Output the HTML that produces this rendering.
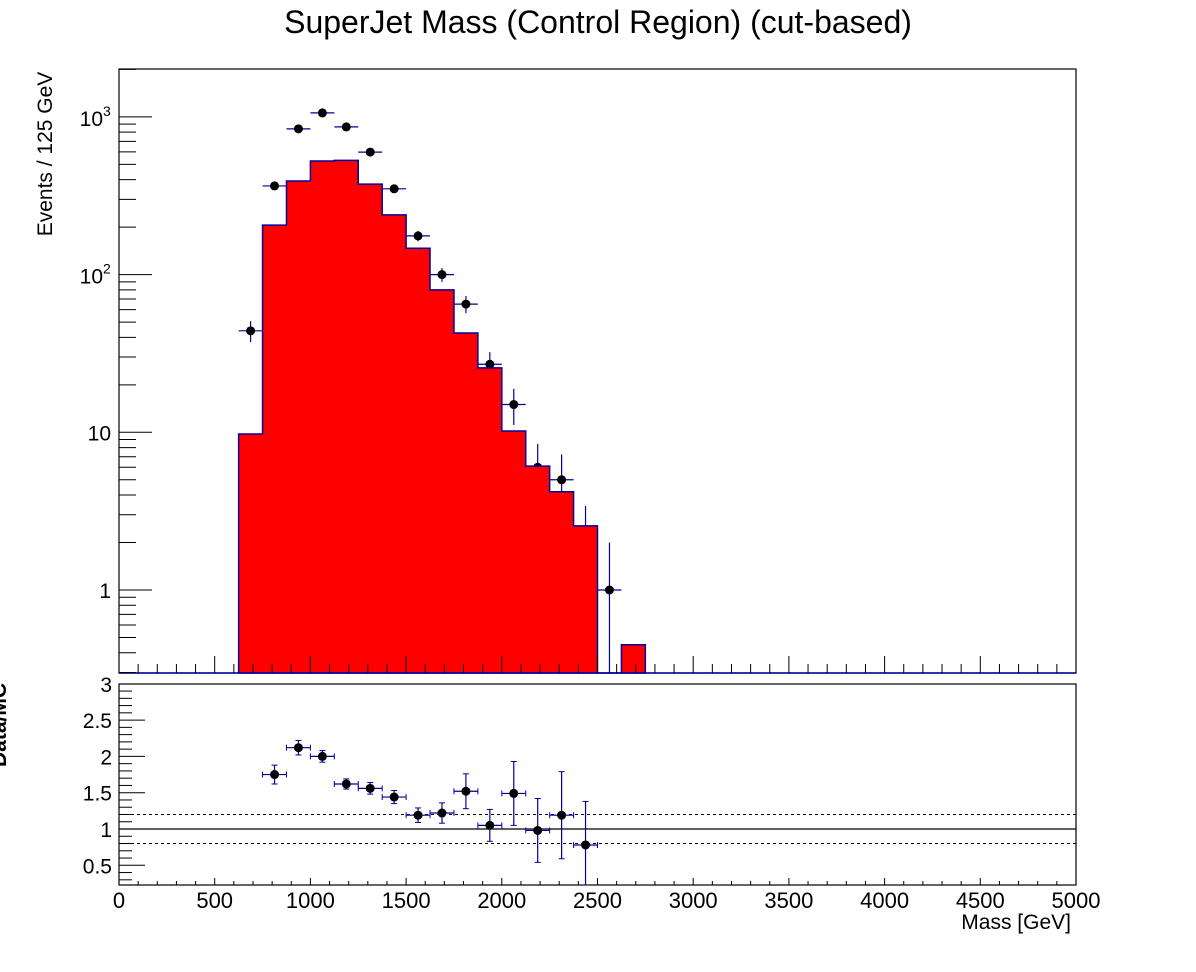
<!DOCTYPE html>
<html><head><meta charset="utf-8"><style>
body{margin:0;background:#fff;}
svg{display:block;font-family:"Liberation Sans",sans-serif;}
</style></head><body>
<svg id="c" width="1196" height="972"></svg>
<script>
const binEdgesStart = 625;
const binWidth = 125;
const mcValues = [9.75,206,392,525,530,375,239,147,80,42.6,25.6,10.2,6.1,4.2,2.55,0,0.45];
const dataCenters = [687.5,812.5,937.5,1062.5,1187.5,1312.5,1437.5,1562.5,1687.5,1812.5,1937.5,2062.5,2187.5,2312.5,2437.5,2562.5];
const dataValues = [44,365,840,1060,864,598,350,176,100,65,27,15,6,5,2,1];
const ratioCenters = [812.5,937.5,1062.5,1187.5,1312.5,1437.5,1562.5,1687.5,1812.5,1937.5,2062.5,2187.5,2312.5,2437.5];
const ratioValues = [1.75,2.12,2.0,1.62,1.56,1.44,1.19,1.22,1.52,1.05,1.49,0.98,1.19,0.78];
const ratioErrors = [0.13,0.1,0.08,0.07,0.08,0.09,0.1,0.14,0.24,0.22,0.44,0.44,0.6,0.6];
const xTicks = [0,500,1000,1500,2000,2500,3000,3500,4000,4500,5000];
const ratioTicks = [0.5,1,1.5,2,2.5,3];

const NS="http://www.w3.org/2000/svg", svg=document.getElementById('c');
function el(t,a,p){const e=document.createElementNS(NS,t);for(const k in a)e.setAttribute(k,a[k]);(p||svg).appendChild(e);return e;}
const L=119,R=1076,T1=69,B1=673,T2=684,B2=885;
const X=v=>L+(v/5000)*(R-L);
const Y=v=>590-Math.log10(v)*157.7;
const YR=v=>829-(v-1)*72.6;
const Yc=v=>Math.max(T1,Math.min(B1,Y(Math.max(v,1e-9))));

let t=el('text',{x:598,y:33,'font-size':32,'text-anchor':'middle'});t.textContent='SuperJet Mass (Control Region) (cut-based)';


// data points main (drawn before histogram)
const gd=el('g',{});
dataCenters.forEach((c,i)=>{const v=dataValues[i],e=Math.sqrt(v),x=X(c),y=Y(v);
 el('line',{x1:X(c-62.5),x2:X(c+62.5),y1:y,y2:y,stroke:'#0000a0','stroke-width':1.2},gd);
 el('line',{x1:x,x2:x,y1:Yc(v+e),y2:Yc(v-e),stroke:'#0000a0','stroke-width':1.2},gd);
 const m=el('circle',{cx:x,cy:y,r:4.5,fill:'#000'},gd);
 });

// main frame (behind histogram outline)
el('rect',{x:L,y:T1,width:R-L,height:B1-T1,fill:'none',stroke:'#000','stroke-width':1.2});

// histogram
const gh=el('g',{});
let d='';mcValues.forEach((v,i)=>{const x0=X(binEdgesStart+i*binWidth),x1=X(binEdgesStart+(i+1)*binWidth),y=v>0?Yc(v):B1;
 d+=(i===0?`M${x0},${B1}`:'')+`L${x0},${y}L${x1},${y}`;});
d+=`L${X(binEdgesStart+mcValues.length*binWidth)},${B1}Z`;
const hp=el('path',{d:d,fill:'#ff0000',stroke:'none'},gh);

el('path',{d:d,fill:'none',stroke:'#0000a0','stroke-width':1.5},gh);
el('line',{x1:L,x2:R,y1:B1,y2:B1,stroke:'#0000a0','stroke-width':1.5});

for(let v=0;v<=5000;v+=100){const x=X(v),len=v%500===0?17:9;
 el('line',{x1:x,x2:x,y1:B1,y2:B1-len,stroke:'#000'});}
for(let dec=-1;dec<=3;dec++)for(let k=1;k<10;k++){const v=k*Math.pow(10,dec);const y=Y(v);if(y<T1||y>B1)continue;const len=k===1?33:17;
 el('line',{x1:L,x2:L+len,y1:y,y2:y,stroke:'#000'});}
[[1,'1'],[10,'10']].forEach(([v,s])=>{const t=el('text',{x:111,y:Y(v)+8,'font-size':21,'text-anchor':'end'});t.textContent=s;});
[[100,'2'],[1000,'3']].forEach(([v,p])=>{const t=el('text',{x:103,y:Y(v)+9,'font-size':21,'text-anchor':'end'});t.textContent='10';
 const s=el('text',{x:103,y:Y(v)-1,'font-size':14,'text-anchor':'start'});s.textContent=p;});
t=el('text',{x:52,y:154,'font-size':21,'text-anchor':'middle',transform:'rotate(-90 52 154)'});t.textContent='Events / 125 GeV';


// ratio panel
el('rect',{x:L,y:T2,width:R-L,height:B2-T2,fill:'none',stroke:'#000','stroke-width':1.2});
el('line',{x1:L,x2:R,y1:YR(1),y2:YR(1),stroke:'#000','stroke-width':1.2});
[1.2,0.8].forEach(v=>el('line',{x1:L,x2:R,y1:YR(v),y2:YR(v),stroke:'#000','stroke-dasharray':'3,3'}));
for(let i=3;i<=30;i++){const v=i/10,y=YR(v);if(y<T2||y>B2)continue;const len=i%5===0?26:13;
 el('line',{x1:L,x2:L+len,y1:y,y2:y,stroke:'#000'});}
ratioTicks.forEach(v=>{const t=el('text',{x:112,y:YR(v)+8,'font-size':21,'text-anchor':'end'});t.textContent=String(v);});
for(let v=0;v<=5000;v+=100){const x=X(v),len=v%500===0?7:4;
 el('line',{x1:x,x2:x,y1:B2,y2:B2-len,stroke:'#000'});}
xTicks.forEach(v=>{const t=el('text',{x:X(v),y:908,'font-size':22,'text-anchor':'middle'});t.textContent=String(v);});
t=el('text',{x:1071,y:929,'font-size':21,'text-anchor':'end'});t.textContent='Mass [GeV]';

t=el('text',{x:6,y:725,'font-size':21,'font-weight':'bold','text-anchor':'middle',transform:'rotate(-90 6 725)'});t.textContent='Data/MC';

const gr=el('g',{});
ratioCenters.forEach((c,i)=>{const v=ratioValues[i],e=ratioErrors[i],x=X(c),y=YR(v);
 const y1=Math.max(T2,YR(v+e)),y2=Math.min(B2,YR(v-e));
 el('line',{x1:X(c-62.5),x2:X(c+62.5),y1:y,y2:y,stroke:'#0000a0','stroke-width':1.2},gr);
 el('line',{x1:X(c-62.5),x2:X(c-62.5),y1:y-3,y2:y+3,stroke:'#0000a0'},gr);
 el('line',{x1:X(c+62.5),x2:X(c+62.5),y1:y-3,y2:y+3,stroke:'#0000a0'},gr);
 el('line',{x1:x,x2:x,y1:y1,y2:y2,stroke:'#0000a0','stroke-width':1.2},gr);
 el('line',{x1:x-3,x2:x+3,y1:y1,y2:y1,stroke:'#0000a0'},gr);
 el('line',{x1:x-3,x2:x+3,y1:y2,y2:y2,stroke:'#0000a0'},gr);
 const m=el('circle',{cx:x,cy:y,r:4.5,fill:'#000'},gr);
 });
</script>
</body></html>
